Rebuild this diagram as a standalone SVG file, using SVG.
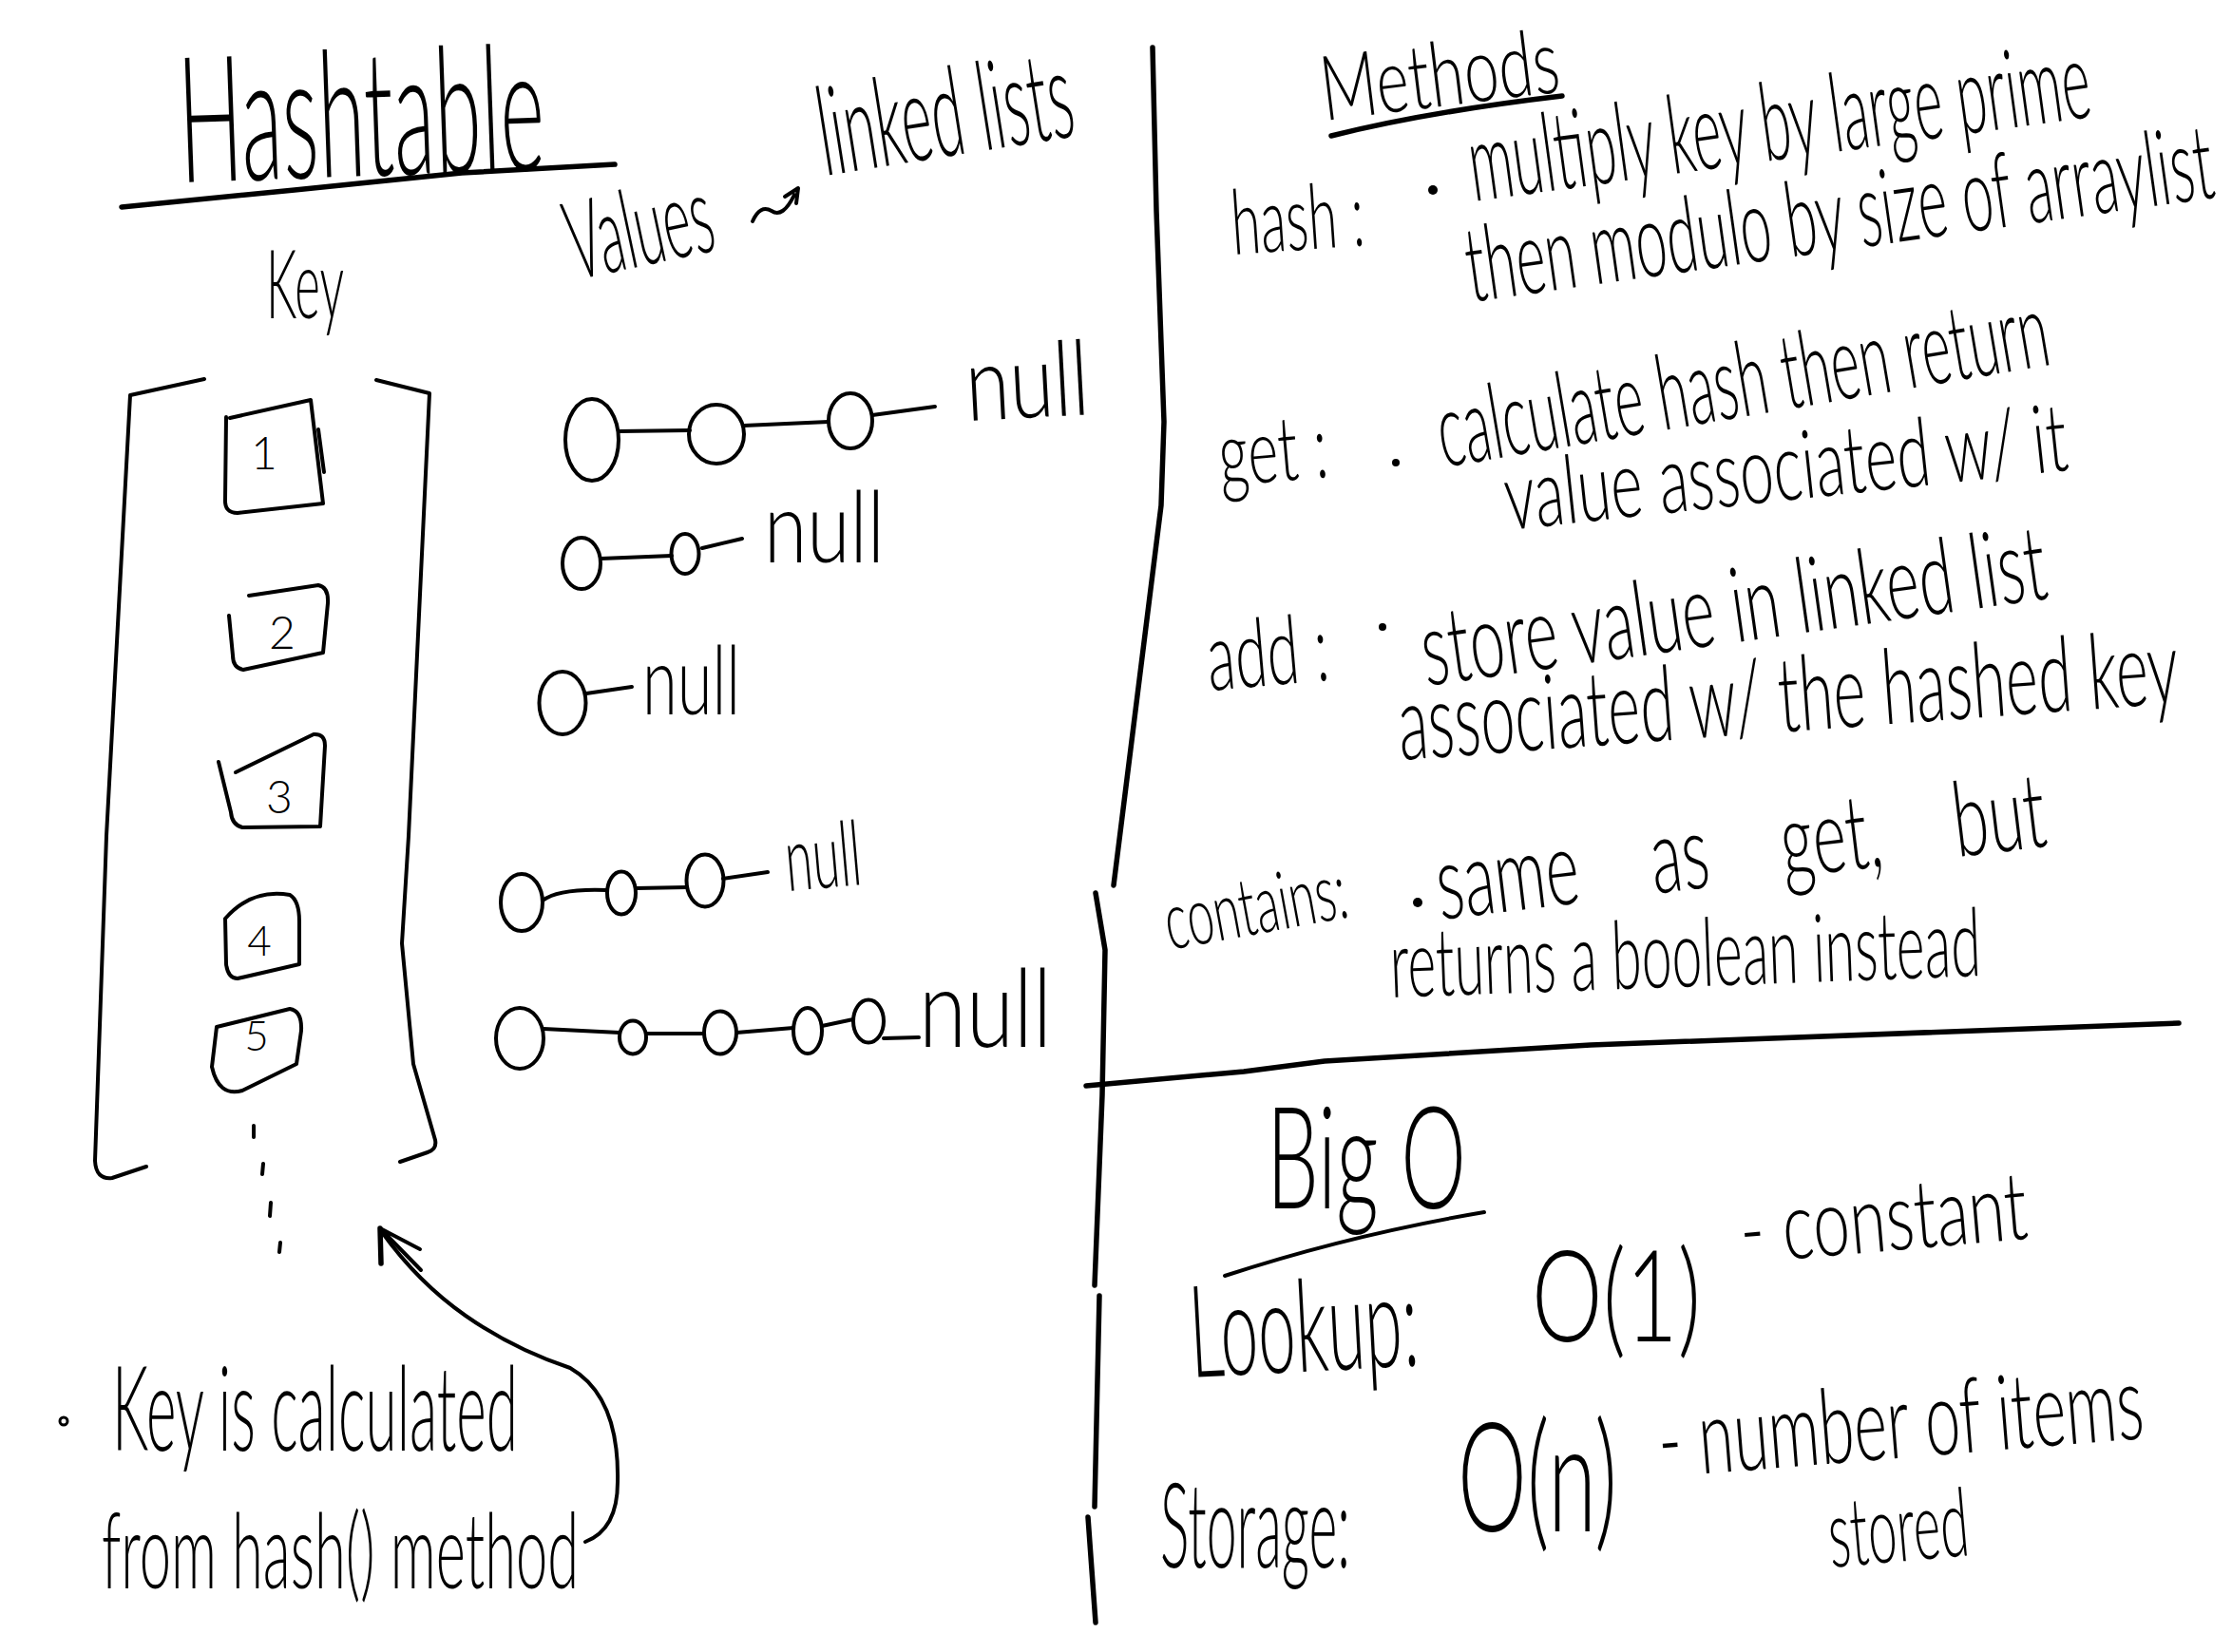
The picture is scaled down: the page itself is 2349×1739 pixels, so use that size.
<svg xmlns="http://www.w3.org/2000/svg" width="2349" height="1739" viewBox="0 0 2349 1739">
<style>
.hw{font-family:"Lato","Liberation Sans",sans-serif;font-weight:300;fill:#000}
.ln{fill:none;stroke:#000;stroke-width:4;stroke-linecap:round;stroke-linejoin:round}
.thick{fill:none;stroke:#000;stroke-width:5.5;stroke-linecap:round;stroke-linejoin:round}
.nd{fill:none;stroke:#000;stroke-width:4}
</style>
<rect width="2349" height="1739" fill="#fff"/>

<g id="title">
<text class="hw" x="190" y="192" font-size="185" textLength="385" lengthAdjust="spacingAndGlyphs" transform="rotate(-2 190 192)">Hashtable</text>
<path class="thick" d="M128,218 L310,200 L486,182 L647,173"/>
</g>

<g id="key-label"><text class="hw" x="280" y="335" font-size="100" textLength="82" lengthAdjust="spacingAndGlyphs">Key</text></g>
<g id="values-label"><text class="hw" x="605" y="295" font-size="115" textLength="155" lengthAdjust="spacingAndGlyphs" transform="rotate(-12 605 295)">Values</text></g>
<g id="linked-lists-label"><text class="hw" x="868" y="185" font-size="130" textLength="270" lengthAdjust="spacingAndGlyphs" transform="rotate(-9 868 185)">linked lists</text></g>

<g id="array">
<path class="ln" d="M215,399 L137,416 L112,880 L100,1222 Q101,1242 118,1240 L154,1228"/>
<path class="ln" d="M396,400 L452,414 L430,880 L423,993 L435,1120 L458,1200 Q460,1210 450,1213 L421,1223"/>
</g>

<g id="key-1">
<path class="ln" d="M242,440 L327,421 L340,530 L250,540 Q236,540 237,525 L238,439"/>
<path class="ln" d="M335,452 L341,497"/>
<text class="hw" x="278" y="494" font-size="48" text-anchor="middle">1</text>
</g>
<g id="key-2">
<path class="ln" d="M262,627 L335,616 Q346,618 345,635 L340,687 L256,705 Q245,703 245,690 L241,648"/>
<text class="hw" x="297" y="683" font-size="48" text-anchor="middle">2</text>
</g>
<g id="key-3">
<path class="ln" d="M248,813 L330,773 Q342,772 342,785 L337,870 L255,871 Q244,868 243,855 L230,802"/>
<text class="hw" x="294" y="856" font-size="48" text-anchor="middle">3</text>
</g>
<g id="key-4">
<path class="ln" d="M237,967 Q265,935 305,942 Q315,948 315,970 L315,1015 L250,1030 Q240,1030 238,1015 Z"/>
<text class="hw" x="273" y="1006" font-size="44" text-anchor="middle">4</text>
</g>
<g id="key-5">
<path class="ln" d="M228,1081 L305,1062 Q318,1064 317,1085 L312,1120 L255,1148 Q230,1155 223,1123 Z"/>
<text class="hw" x="270" y="1106" font-size="44" text-anchor="middle">5</text>
</g>
<g id="key-more">
<path class="ln" d="M267,1185 L267,1197 M277,1225 L276,1236 M285,1266 L284,1280 M295,1308 L294,1318"/>
</g>

<g id="list-1">
<ellipse class="nd" cx="623" cy="463" rx="28" ry="43"/>
<ellipse class="nd" cx="754" cy="457" rx="29" ry="31"/>
<ellipse class="nd" cx="895" cy="443" rx="23" ry="29"/>
<text class="hw" x="1018" y="443" font-size="110" textLength="130" lengthAdjust="spacingAndGlyphs" transform="rotate(-3 1018 443)">null</text>
</g>
<g id="list-2">
<ellipse class="nd" cx="612" cy="593" rx="20" ry="27"/>
<ellipse class="nd" cx="721" cy="583" rx="14.5" ry="21"/>
<text class="hw" x="804" y="592" font-size="105" textLength="127" lengthAdjust="spacingAndGlyphs">null</text>
</g>
<g id="list-3">
<ellipse class="nd" cx="592" cy="740" rx="24.5" ry="33"/>
<text class="hw" x="676" y="752" font-size="100" textLength="103" lengthAdjust="spacingAndGlyphs">null</text>
</g>
<g id="list-4">
<ellipse class="nd" cx="549" cy="950" rx="22" ry="30"/>
<ellipse class="nd" cx="654" cy="940" rx="15" ry="22.5"/>
<ellipse class="nd" cx="742" cy="927" rx="19.5" ry="27.5"/>
<text class="hw" x="829" y="938" font-size="95" textLength="80" lengthAdjust="spacingAndGlyphs" transform="rotate(-5 829 938)">null</text>
</g>
<g id="list-5">
<ellipse class="nd" cx="547" cy="1093" rx="25" ry="32"/>
<ellipse class="nd" cx="666" cy="1092" rx="14" ry="17.5"/>
<ellipse class="nd" cx="758" cy="1087" rx="17" ry="22.5"/>
<ellipse class="nd" cx="850" cy="1085" rx="15" ry="24"/>
<ellipse class="nd" cx="914" cy="1075" rx="16" ry="22.5"/>
<text class="hw" x="967" y="1102" font-size="115" textLength="140" lengthAdjust="spacingAndGlyphs">null</text>
</g>

<g id="key-note">
<circle cx="67" cy="1496" r="4" fill="none" stroke="#000" stroke-width="3"/>
<text class="hw" x="118" y="1527" font-size="125" textLength="427" lengthAdjust="spacingAndGlyphs">Key is calculated</text>
<text class="hw" x="107" y="1672" font-size="110" textLength="502" lengthAdjust="spacingAndGlyphs">from hash() method</text>
</g>

<g id="methods">
<text class="hw" x="1394" y="127" font-size="95" textLength="252" lengthAdjust="spacingAndGlyphs" transform="rotate(-7 1394 127)">Methods</text>
<path class="thick" d="M1401,143 Q1500,118 1644,101"/>
</g>
<g id="method-hash">
<text class="hw" x="1298" y="268" font-size="95" textLength="140" lengthAdjust="spacingAndGlyphs" transform="rotate(-4 1298 268)">hash :</text>
<circle cx="1508" cy="200" r="5" fill="#000"/>
<text class="hw" x="1551" y="212" font-size="115" textLength="659" lengthAdjust="spacingAndGlyphs" transform="rotate(-7.8 1551 212)">multiply key by large prime</text>
<text class="hw" x="1548" y="318" font-size="110" textLength="793" lengthAdjust="spacingAndGlyphs" transform="rotate(-8 1548 318)">then modulo by size of arraylist</text>
</g>
<g id="method-get">
<text class="hw" x="1285" y="512" font-size="95" textLength="115" lengthAdjust="spacingAndGlyphs" transform="rotate(-5 1285 512)">get :</text>
<circle cx="1469" cy="487" r="4" fill="#000"/>
<text class="hw" x="1519" y="492" font-size="110" textLength="651" lengthAdjust="spacingAndGlyphs" transform="rotate(-9.6 1519 492)">calculate hash then return</text>
<text class="hw" x="1587" y="558" font-size="100" textLength="595" lengthAdjust="spacingAndGlyphs" transform="rotate(-6.1 1587 558)">value associated w/ it</text>
</g>
<g id="method-add">
<text class="hw" x="1273" y="727" font-size="100" textLength="128" lengthAdjust="spacingAndGlyphs" transform="rotate(-5 1273 727)">add :</text>
<circle cx="1455" cy="660" r="4" fill="#000"/>
<text class="hw" x="1501" y="722" font-size="110" textLength="663" lengthAdjust="spacingAndGlyphs" transform="rotate(-8 1501 722)">store value in linked list</text>
<text class="hw" x="1474" y="800" font-size="110" textLength="823" lengthAdjust="spacingAndGlyphs" transform="rotate(-4.2 1474 800)">associated w/ the hashed key</text>
</g>
<g id="method-contains">
<text class="hw" x="1231" y="1000" font-size="85" textLength="194" lengthAdjust="spacingAndGlyphs" transform="rotate(-10.4 1231 1000)">contains:</text>
<circle cx="1492" cy="950" r="5" fill="#000"/>
<text class="hw" x="1516" y="968" font-size="110" word-spacing="95" textLength="645" lengthAdjust="spacingAndGlyphs" transform="rotate(-6.9 1516 968)">same as get, but</text>
<text class="hw" x="1464" y="1050" font-size="100" textLength="622" lengthAdjust="spacingAndGlyphs" transform="rotate(-2.1 1464 1050)">returns a boolean instead</text>
</g>

<g id="dividers">
<path class="thick" d="M1213,50 L1217,222 L1225,444 L1222,532 L1172,932"/>
<path class="thick" d="M1153,940 L1163,1000 L1160,1153 L1152,1353"/>
<path class="thick" d="M1157,1364 L1152,1586"/>
<path class="thick" d="M1145,1597 L1153,1708"/>
<path class="thick" d="M1143,1143 L1309,1128 L1394,1117 L1674,1100 L2293,1077"/>
</g>

<g id="big-o">
<text class="hw" x="1333" y="1272" font-size="150" textLength="210" lengthAdjust="spacingAndGlyphs">Big O</text>
<path class="ln" d="M1289,1343 Q1420,1300 1562,1276"/>
</g>
<g id="lookup">
<text class="hw" x="1254" y="1450" font-size="135" textLength="241" lengthAdjust="spacingAndGlyphs" transform="rotate(-3 1254 1450)">Lookup:</text>
<text class="hw" x="1612" y="1412" font-size="135" textLength="178" lengthAdjust="spacingAndGlyphs">O(1)</text>
<text class="hw" x="1834" y="1330" font-size="100" textLength="303" lengthAdjust="spacingAndGlyphs" transform="rotate(-5 1834 1330)">- constant</text>
</g>
<g id="storage">
<text class="hw" x="1221" y="1650" font-size="125" textLength="200" lengthAdjust="spacingAndGlyphs">Storage:</text>
<text class="hw" x="1534" y="1612" font-size="160" textLength="168" lengthAdjust="spacingAndGlyphs">O(n)</text>
<text class="hw" x="1748" y="1555" font-size="110" textLength="512" lengthAdjust="spacingAndGlyphs" transform="rotate(-4.6 1748 1555)">- number of items</text>
<text class="hw" x="1927" y="1650" font-size="100" textLength="148" lengthAdjust="spacingAndGlyphs" transform="rotate(-5 1927 1650)">stored</text>
</g>

<g id="connectors">
<path class="ln" d="M651,454 L726,453"/>
<path class="ln" d="M783,448 L872,444"/>
<path class="ln" d="M918,437 L984,428"/>
<path class="ln" d="M632,588 L707,585"/>
<path class="ln" d="M739,577 L781,567"/>
<path class="ln" d="M617,730 L665,723"/>
<path class="ln" d="M571,948 Q588,935 639,937"/>
<path class="ln" d="M669,935 L723,934"/>
<path class="ln" d="M761,925 L808,918"/>
<path class="ln" d="M572,1083 L652,1087"/>
<path class="ln" d="M680,1088 L741,1088"/>
<path class="ln" d="M775,1087 L835,1082"/>
<path class="ln" d="M865,1080 L898,1073"/>
<path class="ln" d="M930,1093 L967,1092"/>
<path class="ln" d="M792,233 Q800,215 812,222 Q824,230 836,205 M826,207 L840,198 L838,214"/>
<path class="ln" d="M616,1623 Q650,1610 650,1560 Q652,1470 600,1440 Q540,1420 490,1385 Q440,1350 402,1297"/>
<path class="ln" d="M400,1293 L442,1315 M400,1293 L443,1337"/>
<path class="thick" d="M400,1293 L401,1330"/>
</g>
</svg>
